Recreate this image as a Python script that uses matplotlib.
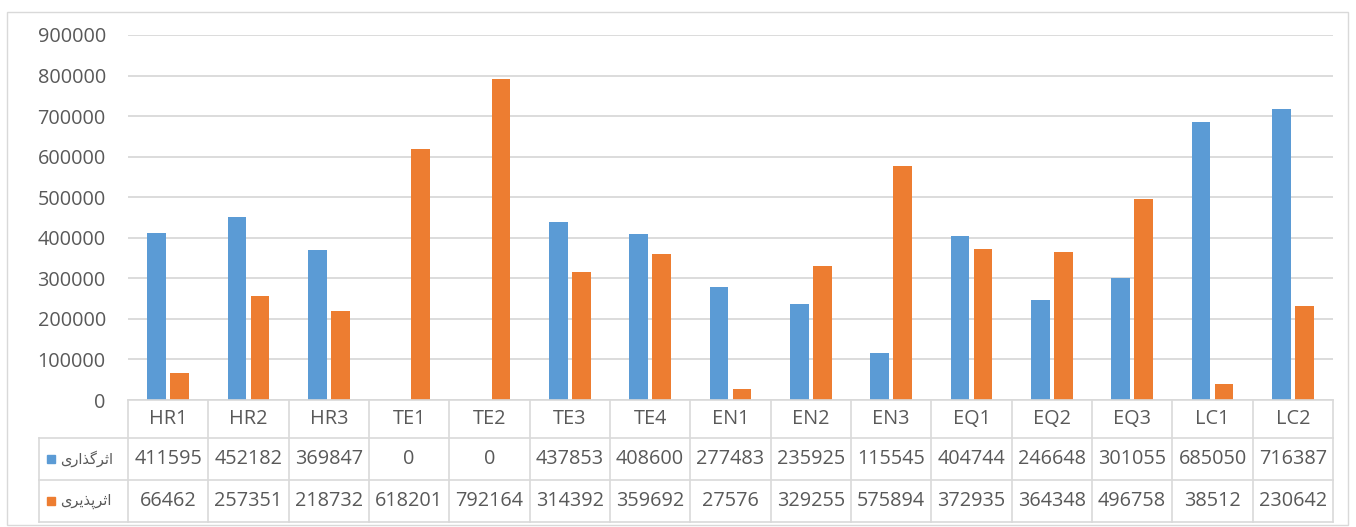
import matplotlib
matplotlib.use("Agg")
import matplotlib.pyplot as plt
from matplotlib.patches import Rectangle
from matplotlib.lines import Line2D
from matplotlib.transforms import blended_transform_factory

# ---- data ----
categories = ["HR1", "HR2", "HR3", "TE1", "TE2", "TE3", "TE4", "EN1", "EN2",
              "EN3", "EQ1", "EQ2", "EQ3", "LC1", "LC2"]
series_names = ["اثرگذاری", "اثرپذیری"]
influence = [411595, 452182, 369847, 0, 0, 437853, 408600, 277483, 235925,
             115545, 404744, 246648, 301055, 685050, 716387]
dependence = [66462, 257351, 218732, 618201, 792164, 314392, 359692, 27576,
              329255, 575894, 372935, 364348, 496758, 38512, 230642]
y_ticks = [0, 100000, 200000, 300000, 400000, 500000, 600000, 700000, 800000, 900000]

BLUE = "#5B9BD5"
ORANGE = "#ED7D31"
TEXT = "#595959"
GRID = "#D9D9D9"
LATIN = "Open Sans"


# ---- minimal Persian shaping (contextual forms + visual order) ----
FORMS = {  # isolated, final, initial, medial
    "\u0627": ("\uFE8D", "\uFE8E", None, None),
    "\u0631": ("\uFEAD", "\uFEAE", None, None),
    "\u0630": ("\uFEAB", "\uFEAC", None, None),
    "\u062B": ("\uFE99", "\uFE9A", "\uFE9B", "\uFE9C"),
    "\u06AF": ("\uFB92", "\uFB93", "\uFB94", "\uFB95"),
    "\u067E": ("\uFB56", "\uFB57", "\uFB58", "\uFB59"),
    "\u06CC": ("\uFBFC", "\uFBFD", "\uFBFE", "\uFBFF"),
}


def dual(ch):
    return ch in FORMS and FORMS[ch][2] is not None


def shape_rtl(word):
    out = []
    for i, ch in enumerate(word):
        if ch not in FORMS:
            out.append(ch)
            continue
        prev_join = i > 0 and dual(word[i - 1])
        next_join = i < len(word) - 1 and dual(ch) and word[i + 1] in FORMS
        iso, fin, ini, med = FORMS[ch]
        if prev_join and next_join:
            out.append(med)
        elif prev_join:
            out.append(fin)
        elif next_join:
            out.append(ini)
        else:
            out.append(iso)
    return "".join(reversed(out))


W, H = 1356, 527
fig = plt.figure(figsize=(W / 100, H / 100), dpi=100)


def fx(px):
    return px / W


def fy(py):
    return 1 - py / H


# plot area in pixel layout
PL, PR, PT, PB = 128, 1333, 35, 400
ax = fig.add_axes([fx(PL), fy(PB), fx(PR - PL), fy(PT) - fy(PB)])

n = len(categories)
xs = list(range(n))
bw = 0.23
off = 0.143
ax.bar([x - off for x in xs], influence, width=bw, color=BLUE, zorder=3)
ax.bar([x + off for x in xs], dependence, width=bw, color=ORANGE, zorder=3)

ax.set_xlim(-0.5, n - 0.5)
ax.set_ylim(0, 900000)
ax.set_yticks(y_ticks)
ax.set_yticklabels([str(v) for v in y_ticks], fontfamily=LATIN, fontsize=14.3, color=TEXT)
ax.tick_params(axis="y", length=0, pad=16)
ax.set_xticks([])
ax.grid(axis="y", color=GRID, linewidth=1.3, zorder=0)
for s in ax.spines.values():
    s.set_visible(False)

# ---- data table under the plot area ----
row_lines = [400, 438, 480, 522]
key_left = 39
lc = dict(color=GRID, linewidth=1.2, transform=fig.transFigure)

# horizontal rules
fig.add_artist(Line2D([fx(PL), fx(PR)], [fy(row_lines[0])] * 2, **lc))
for py in row_lines[1:]:
    fig.add_artist(Line2D([fx(key_left), fx(PR)], [fy(py)] * 2, **lc))
# vertical rules
cell_w = (PR - PL) / n
for k in range(n + 1):
    px = PL + k * cell_w
    fig.add_artist(Line2D([fx(px)] * 2, [fy(row_lines[0]), fy(row_lines[-1])], **lc))
fig.add_artist(Line2D([fx(key_left)] * 2, [fy(row_lines[1]), fy(row_lines[-1])], **lc))

tr = blended_transform_factory(ax.transData, fig.transFigure)
centers = [(row_lines[i] + row_lines[i + 1]) / 2 for i in range(3)]
for i, cat in enumerate(categories):
    fig.text(i, fy(centers[0]), cat, transform=tr, ha="center", va="center",
             fontfamily=LATIN, fontsize=14.3, color=TEXT)
    fig.text(i, fy(centers[1]), str(influence[i]), transform=tr, ha="center",
             va="center", fontfamily=LATIN, fontsize=14.3, color=TEXT)
    fig.text(i, fy(centers[2]), str(dependence[i]), transform=tr, ha="center",
             va="center", fontfamily=LATIN, fontsize=14.3, color=TEXT)

# legend keys with series names
for name, color, cy in zip(series_names, [BLUE, ORANGE], centers[1:]):
    fig.add_artist(Rectangle((fx(47), fy(cy + 4)), fx(8), fy(cy - 4) - fy(cy + 4),
                             transform=fig.transFigure, color=color))
    fig.text(fx(60), fy(cy), shape_rtl(name), ha="left", va="center",
             fontfamily="DejaVu Sans", fontsize=10.5, color=TEXT)

# chart frame
fig.add_artist(Rectangle((fx(7), fy(525)), fx(1348 - 7), fy(12) - fy(525),
                         transform=fig.transFigure, fill=False,
                         edgecolor="#D9D9D9", linewidth=1.0))

fig.savefig("out.png", dpi=100, facecolor="white")
